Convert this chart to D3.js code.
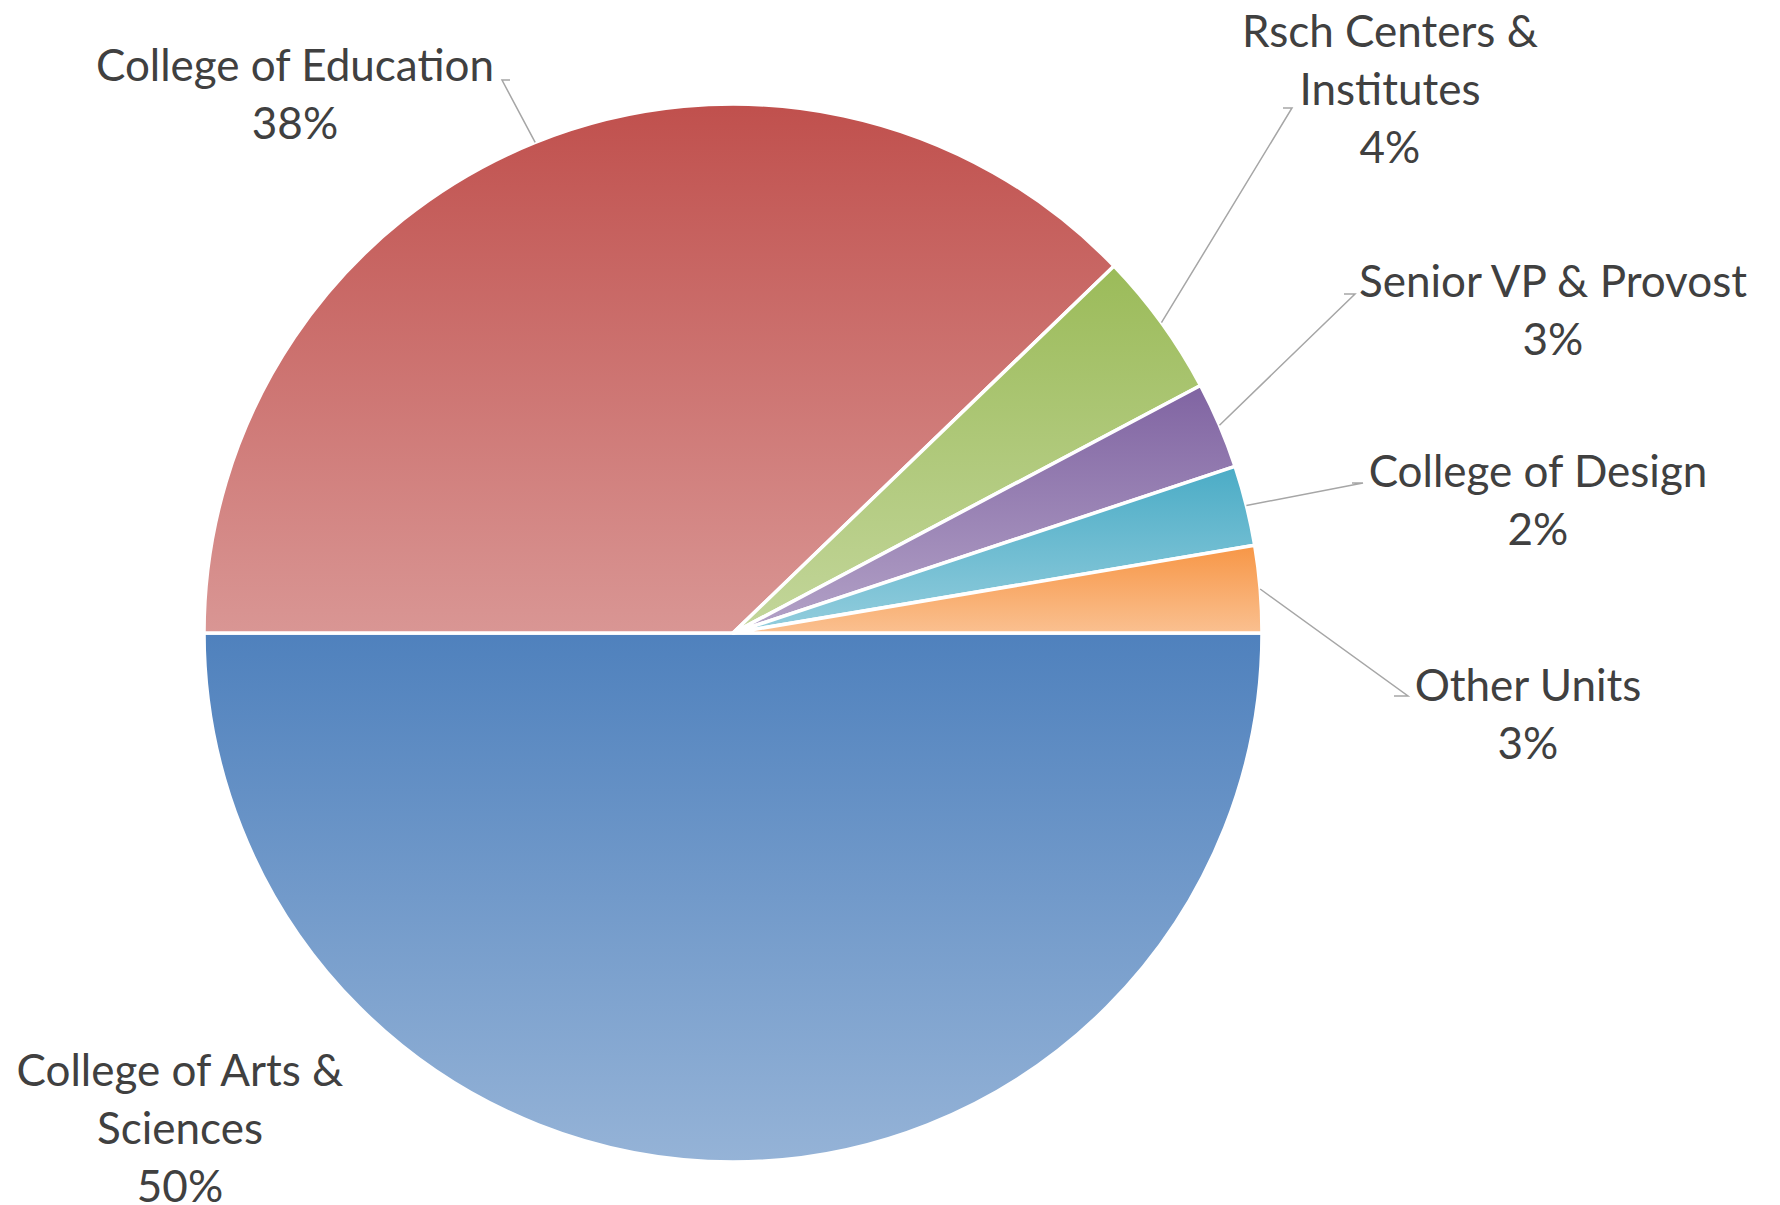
<!DOCTYPE html>
<html>
<head>
<meta charset="utf-8">
<script src="https://cdn.jsdelivr.net/npm/d3@7"></script>
<style>
  body { margin: 0; background: #fff; }
  svg text { font-family: Lato, 'Open Sans', sans-serif; fill: #404040; }
</style>
</head>
<body>
<svg id="chart"></svg>
<script>
// Categories (series order, first slice starts at 3 o'clock)
let categories = [
  'College of Arts & Sciences',
  'College of Education',
  'Rsch Centers & Institutes',
  'Senior VP & Provost',
  'College of Design',
  'Other Units'
];

// Share of total (%)
let values = [50.0, 37.8, 4.45, 2.65, 2.45, 2.65];

// Label lines as wrapped in the chart
let labelLines = [
  ['College of Arts &', 'Sciences'],
  ['College of Education'],
  ['Rsch Centers &', 'Institutes'],
  ['Senior VP & Provost'],
  ['College of Design'],
  ['Other Units']
];

// Slice colours: base (top) and light (bottom) of the gradient
let baseColors = ['#4F81BD', '#C0504D', '#9BBB59', '#8064A2', '#4BACC6', '#F79646'];
let lightColors = ['#95B3D7', '#D99694', '#C3D69B', '#B3A2C7', '#93CDDD', '#FAC090'];

// SVG size
let svgWidth = 1780;
let svgHeight = 1205;

// Pie geometry
let cx = 733;
let cy = 633;
let radius = 529;
let fontSize = 44;
let lineHeight = 58;

// Label layout: text centre x, first-line centre y, elbow of leader line (null = no leader)
let labelLayout = [
  { x: 180, y: 1070, elbow: null },
  { x: 295, y: 65, elbow: [[502, 80], [510, 80]] },
  { x: 1390, y: 31, elbow: [[1292, 108], [1283, 108]] },
  { x: 1553, y: 281, elbow: [[1355, 294], [1344, 294]] },
  { x: 1538, y: 471, elbow: [[1363, 483], [1352, 483]] },
  { x: 1528, y: 685, elbow: [[1408, 696], [1394, 696]] }
];

let data = categories.map((c, i) => ({
  name: c,
  value: values[i],
  index: i
}));

let svg = d3.select('#chart')
  .attr('width', svgWidth)
  .attr('height', svgHeight);

// Vertical gradients, one per slice (bounding box of the slice)
let defs = svg.append('defs');
data.forEach((d, i) => {
  let g = defs.append('linearGradient')
    .attr('id', 'grad' + i)
    .attr('x1', 0).attr('y1', 0)
    .attr('x2', 0).attr('y2', 1);
  g.append('stop').attr('offset', '0%').attr('stop-color', baseColors[i]);
  g.append('stop').attr('offset', '100%').attr('stop-color', lightColors[i]);
});

let pie = d3.pie()
  .sort(null)
  .value(d => d.value)
  .startAngle(Math.PI / 2)
  .endAngle(Math.PI / 2 + 2 * Math.PI);

let arc = d3.arc()
  .innerRadius(0)
  .outerRadius(radius);

let arcs = pie(data);

let g = svg.append('g')
  .attr('transform', 'translate(' + cx + ', ' + cy + ')');

g.selectAll('path.slice')
  .data(arcs)
  .enter()
  .append('path')
  .attr('class', 'slice')
  .attr('d', arc)
  .attr('fill', d => 'url(#grad' + d.index + ')')
  .attr('stroke', '#fff')
  .attr('stroke-width', 3.5)
  .attr('stroke-linejoin', 'round');

// Leader lines from the slice edge (mid angle) to the label elbow
arcs.forEach((a, i) => {
  let lay = labelLayout[i];
  if (!lay.elbow) return;
  let mid = (a.startAngle + a.endAngle) / 2;
  let px = cx + radius * Math.sin(mid);
  let py = cy - radius * Math.cos(mid);
  let pts = [[px, py], lay.elbow[0], lay.elbow[1]].reverse();
  svg.append('path')
    .attr('d', d3.line()(pts))
    .attr('fill', 'none')
    .attr('stroke', '#A6A6A6')
    .attr('stroke-width', 1.5);
});

// Labels: category lines + rounded percentage
arcs.forEach((a, i) => {
  let lay = labelLayout[i];
  let lines = labelLines[i].concat([Math.round(a.data.value) + '%']);
  let t = svg.append('text')
    .attr('text-anchor', 'middle')
    .attr('font-size', fontSize + 'px');
  lines.forEach((ln, j) => {
    t.append('tspan')
      .attr('x', lay.x)
      .attr('y', lay.y + j * lineHeight)
      .attr('dy', '0.36em')
      .text(ln);
  });
});
</script>
</body>
</html>
